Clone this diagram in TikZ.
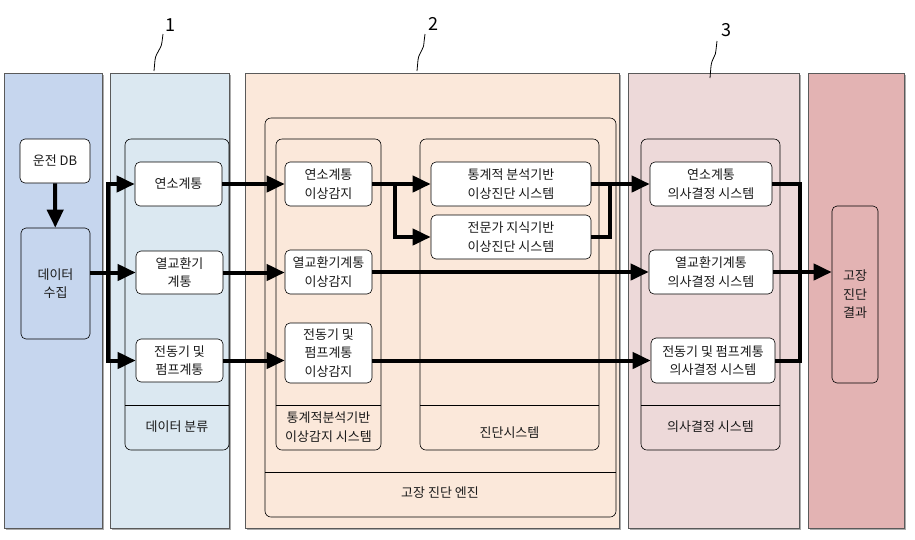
\documentclass[tikz,border=0pt]{standalone}
\usepackage{fontspec}
\setmainfont{Noto Sans CJK KR}
\usetikzlibrary{arrows.meta,shadows}
\definecolor{cA}{HTML}{C6D6EE}
\definecolor{cB}{HTML}{DBE8F1}
\definecolor{cC}{HTML}{FBE8DA}
\definecolor{cD}{HTML}{EDD9D9}
\definecolor{cE}{HTML}{E3B3B3}
\definecolor{edge}{HTML}{5A5A5A}
\definecolor{txt}{HTML}{1A1A1A}
\tikzset{
  panel/.style={draw=edge, line width=0.8pt, inner sep=0pt, anchor=north west,
    drop shadow={shadow xshift=1.5pt, shadow yshift=-1.5pt, fill=black!55, opacity=0.6}},
  cont/.style={draw=black, line width=0.6pt, rounded corners=6pt},
  box/.style={draw=black, line width=0.6pt, rounded corners=5pt, fill=white,
    align=center, inner sep=1pt, text=txt, font=\fontsize{13}{18.5}\selectfont},
  lbl/.style={align=center, text=txt, font=\fontsize{13}{18.5}\selectfont},
  num/.style={text=black, font=\fontsize{18}{20}\selectfont},
  thk/.style={line width=4pt, black},
  arr/.style={thk, -{Triangle[length=18pt,width=16pt]}},
  lead/.style={line width=0.8pt, black},
}
\begin{document}
\begin{tikzpicture}[x=1pt,y=-1pt]
\useasboundingbox (0,0) rectangle (915,539);
% panels
\node[panel, fill=cA, minimum width=98pt, minimum height=455pt] (pA) at (4,73) {};
\node[panel, fill=cB, minimum width=119pt, minimum height=455pt] (pB) at (110,73) {};
\node[panel, fill=cC, minimum width=374pt, minimum height=455pt] (pC) at (245,73) {};
\node[panel, fill=cD, minimum width=171pt, minimum height=455pt] (pD) at (628,73) {};
\node[panel, fill=cE, minimum width=96pt, minimum height=455pt] (pE) at (808,73) {};
% numbers and leaders
\node[num] (n1) at (170,25) {1};
\node[num] (n2) at (433,24) {2};
\node[num] (n3) at (726,30) {3};
\coordinate (l1) at (154,71);
\coordinate (l2) at (417,71);
\coordinate (l3) at (710,78);
\draw[lead] (l1) -- (155,60) .. controls (156,52) and (161,50) .. (162,42) -- (163,34);
\draw[lead] (l2) -- (418,60) .. controls (419,52) and (424,50) .. (424,42) -- (425,34);
\draw[lead] (l3) -- (711,66) .. controls (712,58) and (716,56) .. (716,50) -- (717,41);
% containers
\draw[cont] (125,139) rectangle (229,450);
\draw[thin] (125,405) -- (229,405);
\node[lbl] (tB) at (177,427) {데이터 분류};
\draw[cont] (265,118) rectangle (616,517);
\draw[thin] (265,472) -- (616,472);
\node[lbl] (tE) at (440,493) {고장 진단 엔진};
\draw[cont] (276,139) rectangle (381,450);
\draw[thin] (276,405) -- (381,405);
\node[lbl] (tC1) at (328.5,427) {통계적분석기반\\이상감지 시스템};
\draw[cont] (420,139) rectangle (599,450);
\draw[thin] (420,405) -- (599,405);
\node[lbl] (tC2) at (509.5,433) {진단시스템};
\draw[cont] (641,139) rectangle (780,450);
\draw[thin] (641,405) -- (780,405);
\node[lbl] (tD) at (710.5,427) {의사결정 시스템};
% boxes
\node[box, minimum width=70pt, minimum height=44pt] (db) at (55,161) {운전 DB};
\node[box, fill=cA, minimum width=69pt, minimum height=111pt] (col) at (55.5,283.5) {데이터\\수집};
\node[box, minimum width=87pt, minimum height=44pt] (b1) at (178.5,184) {연소계통};
\node[box, minimum width=87pt, minimum height=43pt] (b2) at (179.5,272.5) {열교환기\\계통};
\node[box, minimum width=87pt, minimum height=43pt] (b3) at (179.5,360.5) {전동기 및\\펌프계통};
\node[box, minimum width=87pt, minimum height=44pt] (c1) at (328.5,184) {연소계통\\이상감지};
\node[box, minimum width=87pt, minimum height=44pt] (c2) at (328.5,272) {열교환기계통\\이상감지};
\node[box, minimum width=87pt, minimum height=60pt] (c3) at (328.5,353) {전동기 및\\펌프계통\\이상감지};
\node[box, minimum width=160pt, minimum height=44pt] (s1) at (511,184) {통계적 분석기반\\이상진단 시스템};
\node[box, minimum width=160pt, minimum height=44pt] (s2) at (511,237) {전문가 지식기반\\이상진단 시스템};
\node[box, minimum width=122pt, minimum height=44pt] (d1) at (711,184) {연소계통\\의사결정 시스템};
\node[box, minimum width=124pt, minimum height=44pt] (d2) at (711,272) {열교환기계통\\의사결정 시스템};
\node[box, minimum width=124pt, minimum height=45pt] (d3) at (713,360.5) {전동기 및 펌프계통\\의사결정 시스템};
\node[box, fill=cE, minimum width=46pt, minimum height=177pt] (res) at (855,294.5) {고장\\진단\\결과};
% connectors
\coordinate (sp) at (108,0);
\coordinate (br) at (395,0);
\coordinate (mg) at (610,0);
\coordinate (out) at (800,0);
\draw[arr] (db) -- (col);
\draw[arr] (col.east |- b2.west) -- (b2.west);
\draw[thk] (sp |- b1.west) -- (sp |- b3.west);
\draw[arr] ([xshift=-2pt]sp |- b1.west) -- (b1.west);
\draw[arr] ([xshift=-2pt]sp |- b3.west) -- (b3.west);
\draw[arr] (b1.east) -- (c1.west);
\draw[arr] (b2.east) -- (c2.west |- b2.east);
\draw[arr] (b3.east) -- (c3.west |- b3.east);
\draw[arr] (c1.east) -- (s1.west);
\draw[arr] (br |- c1.east) |- (s2.west);
\draw[arr] (s1.east) -- (d1.west);
\draw[thk] (s2.east) -| (mg |- s1.east);
\draw[arr] (c2.east) -- (d2.west |- c2.east);
\draw[arr] (c3.east |- b3.east) -- (d3.west |- b3.east);
\draw[thk] (d1.east) -| (out |- d3.east) -- (d3.east);
\draw[arr] (d2.east) -- (res.west |- d2.east);
\end{tikzpicture}
\end{document}
